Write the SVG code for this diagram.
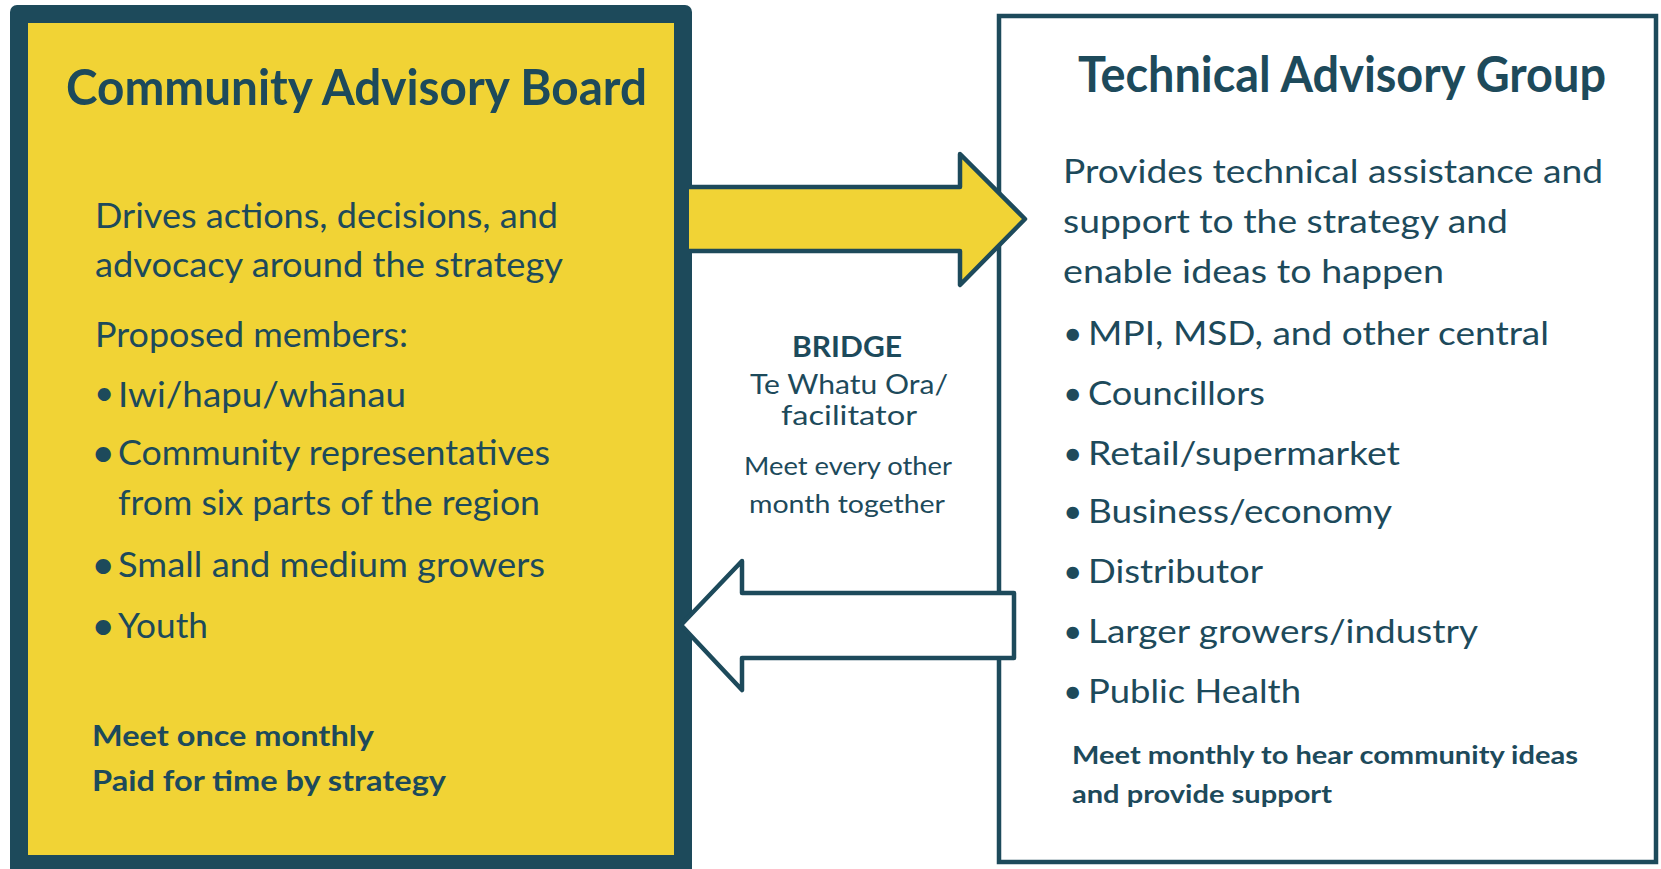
<svg xmlns="http://www.w3.org/2000/svg" width="1661" height="869" viewBox="0 0 1661 869">
<style>
.t{font-family:Lato,"Open Sans","Liberation Sans",sans-serif;fill:#1D4A5B}
.b{font-weight:bold}
.title{font-size:49px;font-weight:bold}
.lb{font-size:35px}
.rb{font-size:33.5px}
.mid{font-size:27px}
.midsm{font-size:25px}
.lbold{font-size:29px;font-weight:bold}
.rbold{font-size:25px;font-weight:bold}
.arrow{stroke:#1D4A5B;stroke-width:4.5;stroke-linejoin:round}
</style>
<rect width="1661" height="869" fill="#ffffff"/>
<g id="community-advisory-board">
  <rect x="10" y="5" width="682" height="870" rx="7" fill="#1D4A5B"/>
  <rect x="28" y="23" width="646" height="832" fill="#F1D335"/>
  <text class="t title" x="66" y="105" textLength="581" lengthAdjust="spacingAndGlyphs">Community Advisory Board</text>
  <text class="t lb" x="95" y="228" textLength="463" lengthAdjust="spacingAndGlyphs">Drives actions, decisions, and</text>
  <text class="t lb" x="95" y="277" textLength="468" lengthAdjust="spacingAndGlyphs">advocacy around the strategy</text>
  <text class="t lb" x="95" y="347" textLength="313" lengthAdjust="spacingAndGlyphs">Proposed members:</text>
  <text class="t lb" x="94" y="405" font-size="30">•</text>
  <text class="t lb" x="118" y="407" textLength="288" lengthAdjust="spacingAndGlyphs">Iwi/hapu/whānau</text>
  <text class="t lb b" x="93" y="465">•</text>
  <text class="t lb" x="118" y="465" textLength="432" lengthAdjust="spacingAndGlyphs">Community representatives</text>
  <text class="t lb" x="118" y="515" textLength="422" lengthAdjust="spacingAndGlyphs">from six parts of the region</text>
  <text class="t lb b" x="93" y="577">•</text>
  <text class="t lb" x="118" y="577" textLength="427" lengthAdjust="spacingAndGlyphs">Small and medium growers</text>
  <text class="t lb b" x="93" y="638">•</text>
  <text class="t lb" x="118" y="638" textLength="90" lengthAdjust="spacingAndGlyphs">Youth</text>
  <text class="t lbold" x="92" y="746" textLength="282" lengthAdjust="spacingAndGlyphs">Meet once monthly</text>
  <text class="t lbold" x="92" y="791" textLength="354" lengthAdjust="spacingAndGlyphs">Paid for time by strategy</text>
</g>
<g id="technical-advisory-group">
  <rect x="999" y="16" width="657" height="846" fill="#ffffff" stroke="#1D4A5B" stroke-width="4.5"/>
  <text class="t title" x="1078" y="92" textLength="528" lengthAdjust="spacingAndGlyphs">Technical Advisory Group</text>
  <text class="t rb" x="1063" y="183" textLength="540" lengthAdjust="spacingAndGlyphs">Provides technical assistance and</text>
  <text class="t rb" x="1063" y="233" textLength="445" lengthAdjust="spacingAndGlyphs">support to the strategy and</text>
  <text class="t rb" x="1063" y="283" textLength="381" lengthAdjust="spacingAndGlyphs">enable ideas to happen</text>
  <text class="t rb" x="1063" y="345" font-size="29">•</text>
  <text class="t rb" x="1088" y="345" textLength="461" lengthAdjust="spacingAndGlyphs">MPI, MSD, and other central</text>
  <text class="t rb" x="1063" y="405" font-size="29">•</text>
  <text class="t rb" x="1088" y="405" textLength="177" lengthAdjust="spacingAndGlyphs">Councillors</text>
  <text class="t rb" x="1063" y="465" font-size="29">•</text>
  <text class="t rb" x="1088" y="465" textLength="312" lengthAdjust="spacingAndGlyphs">Retail/supermarket</text>
  <text class="t rb" x="1063" y="523" font-size="29">•</text>
  <text class="t rb" x="1088" y="523" textLength="304" lengthAdjust="spacingAndGlyphs">Business/economy</text>
  <text class="t rb" x="1063" y="583" font-size="29">•</text>
  <text class="t rb" x="1088" y="583" textLength="175" lengthAdjust="spacingAndGlyphs">Distributor</text>
  <text class="t rb" x="1063" y="643" font-size="29">•</text>
  <text class="t rb" x="1088" y="643" textLength="390" lengthAdjust="spacingAndGlyphs">Larger growers/industry</text>
  <text class="t rb" x="1063" y="703" font-size="29">•</text>
  <text class="t rb" x="1088" y="703" textLength="213" lengthAdjust="spacingAndGlyphs">Public Health</text>
  <text class="t rbold" x="1072" y="764" textLength="506" lengthAdjust="spacingAndGlyphs">Meet monthly to hear community ideas</text>
  <text class="t rbold" x="1072" y="803" textLength="260" lengthAdjust="spacingAndGlyphs">and provide support</text>
</g>
<g id="bridge">
  <text class="t b" x="792" y="357" font-size="28" textLength="110" lengthAdjust="spacingAndGlyphs">BRIDGE</text>
  <text class="t mid" x="750" y="394" textLength="198" lengthAdjust="spacingAndGlyphs">Te Whatu Ora/</text>
  <text class="t mid" x="781" y="425" textLength="136" lengthAdjust="spacingAndGlyphs">facilitator</text>
  <text class="t midsm" x="744" y="475" textLength="208" lengthAdjust="spacingAndGlyphs">Meet every other</text>
  <text class="t midsm" x="749" y="513" textLength="196" lengthAdjust="spacingAndGlyphs">month together</text>
</g>
<g id="connectors">
  <path class="arrow" d="M689,187 L960,187 L960,154 L1025,219 L960,285 L960,251 L689,251" fill="#F1D335"/>
  <path class="arrow" d="M1014,593 L742,593 L742,561 L681,625 L742,690 L742,658 L1014,658 Z" fill="#ffffff"/>
</g>
</svg>
